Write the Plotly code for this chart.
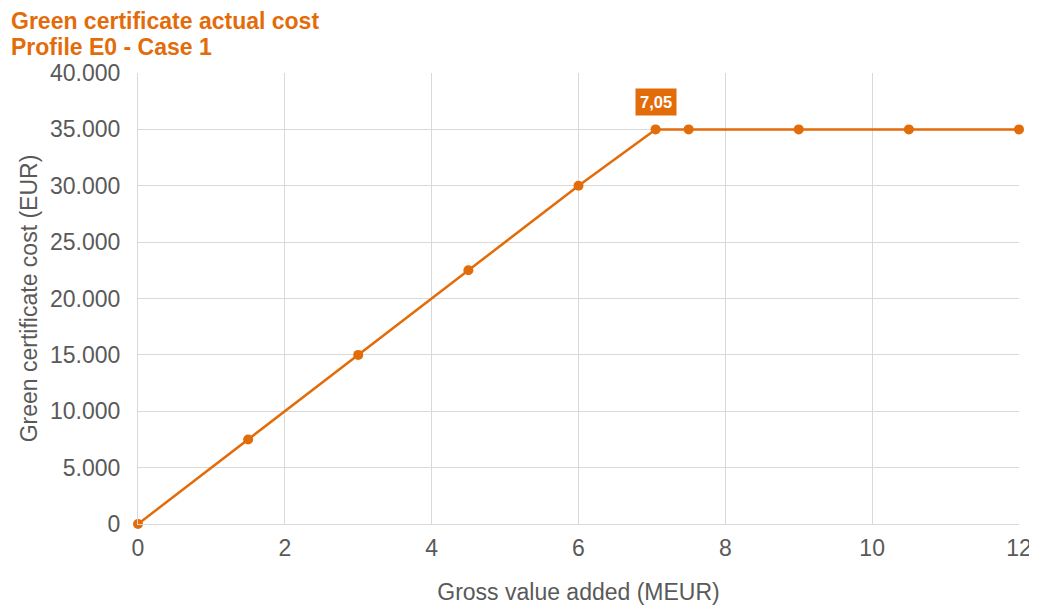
import plotly.graph_objects as go

gva_meur = [0, 1.5, 3, 4.5, 6, 7.05, 7.5, 9, 10.5, 12]
cost_eur = [0, 7500, 15000, 22500, 30000, 35000, 35000, 35000, 35000, 35000]
label_x = 7.05
label_y = 35000
label_text = "7,05"
title_lines = ["Green certificate actual cost", "Profile E0 - Case 1"]

orange = "#E36C0A"
grid = "#D9D9D9"
textgray = "#595959"
FONT = "Liberation Sans, Arial, sans-serif"

# page body has an 8px default margin, so the figure is sized to fit the window
W, H = 1029, 599
L, R, T, B = 130, 18, 65, 83
pw, ph = W - L - R, H - T - B

fig = go.Figure()
fig.add_trace(go.Scatter(
    x=gva_meur, y=cost_eur, mode="lines+markers",
    line=dict(color=orange, width=2.5),
    marker=dict(color=orange, size=10),
    showlegend=False, hoverinfo="x+y", cliponaxis=False))

fig.add_annotation(x=label_x, y=label_y, text="<b>" + label_text + "</b>",
                   showarrow=False, yshift=27, bgcolor=orange,
                   font=dict(color="white", size=16.5, family=FONT),
                   borderpad=4)

for line, cy in zip(title_lines, [13, 39]):
    fig.add_annotation(xref="paper", yref="paper",
                       x=(2 - L) / pw, y=(H - B - cy) / ph,
                       xanchor="left", yanchor="middle", showarrow=False,
                       text="<b>" + line + "</b>", borderpad=0,
                       font=dict(size=23, color=orange, family=FONT))

fig.update_layout(
    width=W, height=H,
    separators=",.",
    paper_bgcolor="white", plot_bgcolor="white",
    margin=dict(l=L, r=R, t=T, b=B, autoexpand=False),
    font=dict(family=FONT, color=textgray, size=23),
    xaxis=dict(range=[0, 12], dtick=2, tick0=0, showgrid=True, gridcolor=grid,
               zeroline=False, showline=True, linecolor=grid, automargin=False,
               ticks="", tickfont=dict(size=23, color=textgray), ticklabelstandoff=3,
               title=dict(text="Gross value added (MEUR)", font=dict(size=23, color=textgray), standoff=24)),
    yaxis=dict(range=[0, 40000], dtick=5000, showgrid=True, gridcolor=grid,
               zeroline=False, showline=True, linecolor=grid, tickformat=",d",
               automargin=False, ticks="", tickfont=dict(size=23, color=textgray),
               ticklabelstandoff=12,
               title=dict(text="Green certificate cost (EUR)", font=dict(size=23, color=textgray), standoff=5)),
)
fig.write_html("out.html")
